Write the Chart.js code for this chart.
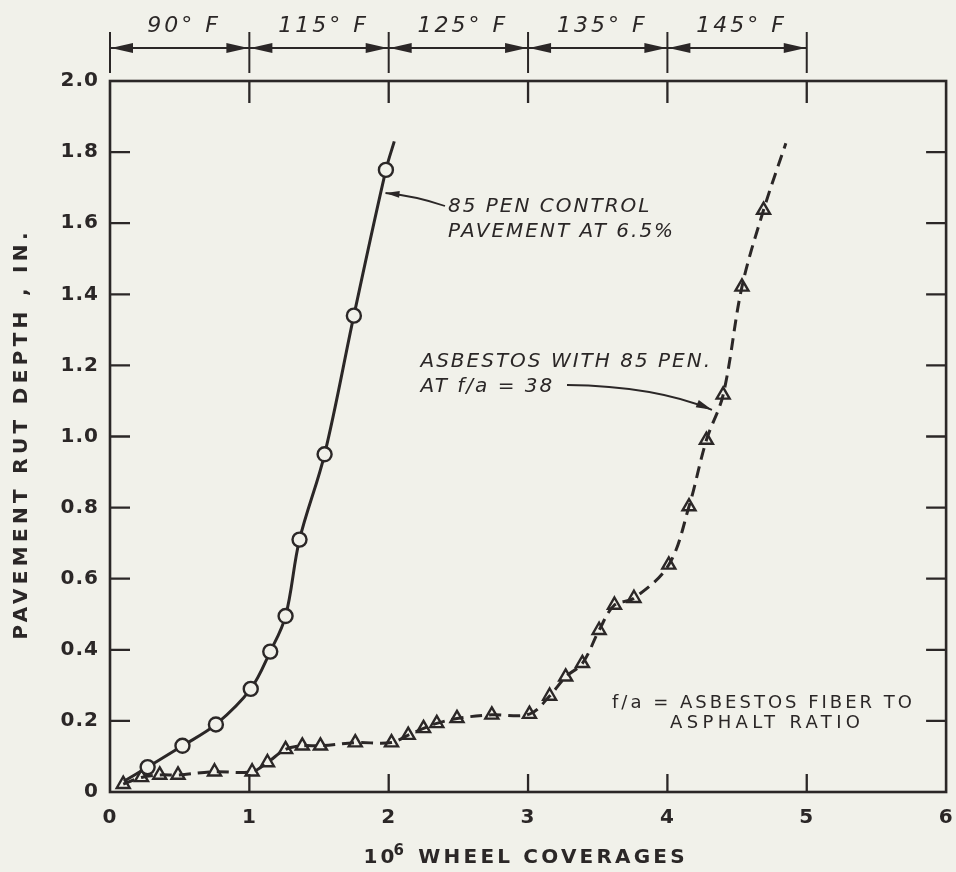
<!DOCTYPE html>
<html><head><meta charset="utf-8">
<script src="https://cdn.jsdelivr.net/npm/chart.js@4.4.1/dist/chart.umd.min.js"></script>
<style>
html,body{margin:0;padding:0;background:#f1f1ea;}
canvas{display:block;}
</style></head><body>
<canvas id="c" width="956" height="872"></canvas>
<script>
// ---- data ----
const controlX = [0.10, 0.27, 0.52, 0.76, 1.01, 1.15, 1.26, 1.36, 1.54, 1.75, 1.98, 2.04];
const controlY = [0.03, 0.07, 0.13, 0.19, 0.29, 0.395, 0.495, 0.71, 0.95, 1.34, 1.75, 1.83];
const controlMarker = [false, true, true, true, true, true, true, true, true, true, true, false];

const asbX = [0.095, 0.226, 0.357, 0.488, 0.75, 1.02, 1.13, 1.26, 1.38, 1.51, 1.76, 2.02, 2.14, 2.25, 2.345, 2.49, 2.74, 3.01, 3.155, 3.27, 3.39, 3.51, 3.62, 3.76, 4.01, 4.155, 4.28, 4.40, 4.535, 4.69, 4.85];
const asbY = [0.022, 0.041, 0.048, 0.048, 0.057, 0.057, 0.083, 0.12, 0.13, 0.13, 0.139, 0.139, 0.16, 0.179, 0.193, 0.207, 0.217, 0.219, 0.27, 0.324, 0.362, 0.455, 0.526, 0.545, 0.639, 0.803, 0.99, 1.117, 1.421, 1.637, 1.825];
const asbMarker = asbX.map((_, i) => i < asbX.length - 1);

const xTicks = [0, 1, 2, 3, 4, 5, 6];
const xTickLabels = ['0', '1', '2', '3', '4', '5', '6'];
const yTicks = [0, 0.2, 0.4, 0.6, 0.8, 1.0, 1.2, 1.4, 1.6, 1.8, 2.0];
const yTickLabels = ['0', '0.2', '0.4', '0.6', '0.8', '1.0', '1.2', '1.4', '1.6', '1.8', '2.0'];

const tempBounds = [0, 1, 2, 3, 4, 5];
const tempLabels = ['90° F', '115° F', '125° F', '135° F', '145° F'];

const xTitleParts = ['10', '6', ' WHEEL COVERAGES'];
const yTitle = 'PAVEMENT RUT DEPTH , IN.';
const noteControl = ['85 PEN CONTROL', 'PAVEMENT AT 6.5%'];
const noteAsb = ['ASBESTOS WITH 85 PEN.', 'AT f/a = 38'];
const noteRatio = ['f/a = ASBESTOS FIBER TO', 'ASPHALT RATIO'];

// ---- styling ----
const ink = '#2b2727';
const bg = '#f1f1ea';
const FONT = "'DejaVu Sans', sans-serif";

function natural(ctx, text, font) {
  ctx.font = font; ctx.letterSpacing = '0px';
  return ctx.measureText(text).width;
}
function drawFit(ctx, text, font, left, baseline, width) {
  const w0 = natural(ctx, text, font);
  const ls = text.length > 1 ? (width - w0) / (text.length - 1) : 0;
  ctx.font = font; ctx.letterSpacing = ls + 'px';
  ctx.textAlign = 'left';
  ctx.fillText(text, left, baseline);
  ctx.letterSpacing = '0px';
  return ls;
}
function widthLS(ctx, text, font, ls) {
  return natural(ctx, text, font) + (text.length - 1) * ls;
}
function drawLS(ctx, text, font, ls, x, baseline, align) {
  const w = widthLS(ctx, text, font, ls);
  let left = x;
  if (align === 'center') left = x - w / 2;
  else if (align === 'right') left = x - w;
  ctx.font = font; ctx.letterSpacing = ls + 'px';
  ctx.textAlign = 'left';
  ctx.fillText(text, left, baseline);
  ctx.letterSpacing = '0px';
  return w;
}
function arrowHead(ctx, tx, ty, fromx, fromy, len, half) {
  const a = Math.atan2(ty - fromy, tx - fromx);
  ctx.beginPath();
  ctx.moveTo(tx, ty);
  ctx.lineTo(tx - len * Math.cos(a) + half * Math.sin(a), ty - len * Math.sin(a) - half * Math.cos(a));
  ctx.lineTo(tx - len * Math.cos(a) - half * Math.sin(a), ty - len * Math.sin(a) + half * Math.cos(a));
  ctx.closePath();
  ctx.fill();
}

const overlay = {
  id: 'overlay',
  beforeDraw(chart) {
    const ctx = chart.ctx;
    ctx.save();
    ctx.fillStyle = bg;
    ctx.fillRect(0, 0, chart.width, chart.height);
    ctx.restore();
    ctx.letterSpacing = '1px';
  },
  afterDraw(chart) {
    const ctx = chart.ctx;
    ctx.letterSpacing = '0px';
    const xs = chart.scales.x, ys = chart.scales.y;
    const { left, right, top, bottom } = chart.chartArea;
    ctx.save();
    ctx.strokeStyle = ink; ctx.fillStyle = ink;
    ctx.lineCap = 'butt';

    // frame
    ctx.lineWidth = 2.6;
    ctx.strokeRect(left, top, right - left, bottom - top);

    // inward tick marks on all four sides
    ctx.lineWidth = 2.3;
    ctx.beginPath();
    yTicks.forEach(v => {
      if (v <= ys.min || v >= ys.max) return;
      const p = ys.getPixelForValue(v);
      ctx.moveTo(left, p); ctx.lineTo(left + 20, p);
      ctx.moveTo(right, p); ctx.lineTo(right - 20, p);
    });
    xTicks.forEach(v => {
      if (v <= xs.min || v >= xs.max) return;
      const p = xs.getPixelForValue(v);
      ctx.moveTo(p, bottom); ctx.lineTo(p, bottom - 18);
      ctx.moveTo(p, top); ctx.lineTo(p, top + 22);
    });
    ctx.stroke();

    // temperature ranges above the plot
    const barY = top - 33;
    ctx.lineWidth = 2;
    ctx.beginPath();
    ctx.moveTo(xs.getPixelForValue(tempBounds[0]), barY);
    ctx.lineTo(xs.getPixelForValue(tempBounds[tempBounds.length - 1]), barY);
    tempBounds.forEach(v => {
      const p = xs.getPixelForValue(v);
      ctx.moveTo(p, top - 49); ctx.lineTo(p, top - 8);
    });
    ctx.stroke();
    ctx.textBaseline = 'alphabetic';
    for (let i = 0; i < tempLabels.length; i++) {
      const a = xs.getPixelForValue(tempBounds[i]);
      const b = xs.getPixelForValue(tempBounds[i + 1]);
      arrowHead(ctx, a + 1, barY, a + 30, barY, 22, 5);
      arrowHead(ctx, b - 1, barY, b - 30, barY, 22, 5);
      drawLS(ctx, tempLabels[i], 'italic 22px ' + FONT, 3, (a + b) / 2 + 3, top - 49, 'center');
    }

    // axis titles
    ctx.save();
    ctx.translate(21, (top + bottom) / 2);
    ctx.rotate(-Math.PI / 2);
    ctx.textBaseline = 'middle';
    drawFit(ctx, yTitle, 'bold 20px ' + FONT, -203, 1, 407);
    ctx.restore();

    {
      const f1 = 'bold 20px ' + FONT, f2 = 'bold 15px ' + FONT;
      const ls = 3.2;
      const w0 = natural(ctx, xTitleParts[0], f1) + ls;
      const w1 = natural(ctx, xTitleParts[1], f2) + ls;
      const w2 = widthLS(ctx, xTitleParts[2], f1, ls);
      const total = w0 + w1 + w2;
      const x0 = (left + right) / 2 - 4 - total / 2;
      const base = bottom + 71;
      ctx.textBaseline = 'alphabetic';
      drawLS(ctx, xTitleParts[0], f1, ls, x0, base, 'left');
      drawLS(ctx, xTitleParts[1], f2, ls, x0 + w0 - 1, base - 8, 'left');
      drawLS(ctx, xTitleParts[2], f1, ls, x0 + w0 + w1, base, 'left');
    }

    // annotation: control pavement
    const nf = 'italic 20px ' + FONT;
    const lsN = 2;
    ctx.textBaseline = 'alphabetic';
    drawLS(ctx, noteControl[0], nf, lsN, 448, 212, 'left');
    drawLS(ctx, noteControl[1], nf, lsN, 448, 237, 'left');
    ctx.lineWidth = 1.8;
    {
      const tx = xs.getPixelForValue(1.977), ty = ys.getPixelForValue(1.685);
      const cx = 416, cy = 196;
      ctx.beginPath(); ctx.moveTo(445, 206); ctx.quadraticCurveTo(cx, cy, tx, ty); ctx.stroke();
      arrowHead(ctx, tx, ty, cx, cy, 14, 3.5);
    }
    // annotation: asbestos
    const wA = widthLS(ctx, noteAsb[0], nf, lsN);
    const leftA = 710 - wA;
    drawLS(ctx, noteAsb[0], nf, lsN, leftA, 367, 'left');
    drawLS(ctx, noteAsb[1], nf, lsN, leftA, 392, 'left');
    {
      const tx = xs.getPixelForValue(4.32), ty = ys.getPixelForValue(1.075);
      const cx = 655, cy = 386;
      ctx.beginPath(); ctx.moveTo(567, 385); ctx.quadraticCurveTo(cx, cy, tx, ty); ctx.stroke();
      arrowHead(ctx, tx, ty, cx, cy, 16, 4);
    }
    // note on ratio
    const rf = '18px ' + FONT;
    drawFit(ctx, noteRatio[0], rf, 612, 708, 300);
    drawFit(ctx, noteRatio[1], rf, 670, 728, 190);

    ctx.restore();
  }
};

const controlPts = controlX.map((x, i) => ({ x, y: controlY[i] }));
const asbPts = asbX.map((x, i) => ({ x, y: asbY[i] }));

new Chart(document.getElementById('c'), {
  type: 'scatter',
  data: {
    datasets: [
      {
        label: '85 PEN CONTROL PAVEMENT AT 6.5%',
        data: controlPts,
        showLine: true,
        borderColor: ink,
        borderWidth: 3,
        tension: 0.35,
        pointStyle: 'circle',
        pointRadius: controlMarker.map(m => m ? 7 : 0),
        pointBorderWidth: 2.4,
        pointBorderColor: ink,
        pointBackgroundColor: bg,
        order: 1
      },
      {
        label: 'ASBESTOS WITH 85 PEN. AT f/a = 38',
        data: asbPts,
        showLine: true,
        borderColor: ink,
        borderWidth: 3,
        borderDash: [12, 7],
        tension: 0.35,
        pointStyle: 'triangle',
        pointRadius: asbMarker.map(m => m ? 7.5 : 0),
        pointBorderWidth: 2.4,
        pointBorderColor: ink,
        pointBackgroundColor: 'rgba(0,0,0,0)',
        order: 2
      }
    ]
  },
  options: {
    responsive: false,
    animation: false,
    events: [],
    layout: { padding: { top: 81, right: 6, left: 0, bottom: 0 } },
    plugins: { legend: { display: false }, tooltip: { enabled: false }, title: { display: false } },
    scales: {
      x: {
        type: 'linear', min: 0, max: 6,
        grid: { display: false, drawTicks: false },
        border: { display: false },
        afterBuildTicks: s => { s.ticks = xTicks.map(v => ({ value: v })); },
        afterFit: s => { s.height = 80; s.paddingLeft = 0; s.paddingRight = 0; },
        ticks: {
          color: ink, padding: 14, maxRotation: 0, autoSkip: false,
          font: { family: FONT, size: 20, weight: 'bold' },
          callback: (v, i) => xTickLabels[i]
        }
      },
      y: {
        type: 'linear', min: 0, max: 2,
        grid: { display: false, drawTicks: false },
        border: { display: false },
        afterBuildTicks: s => { s.ticks = yTicks.map(v => ({ value: v })); },
        afterFit: s => { s.width = 110; s.paddingTop = 0; s.paddingBottom = 0; },
        ticks: {
          color: ink, padding: 11, autoSkip: false,
          font: { family: FONT, size: 20, weight: 'bold' },
          callback: (v, i) => yTickLabels[i]
        }
      }
    }
  },
  plugins: [overlay]
});
</script>
</body></html>
